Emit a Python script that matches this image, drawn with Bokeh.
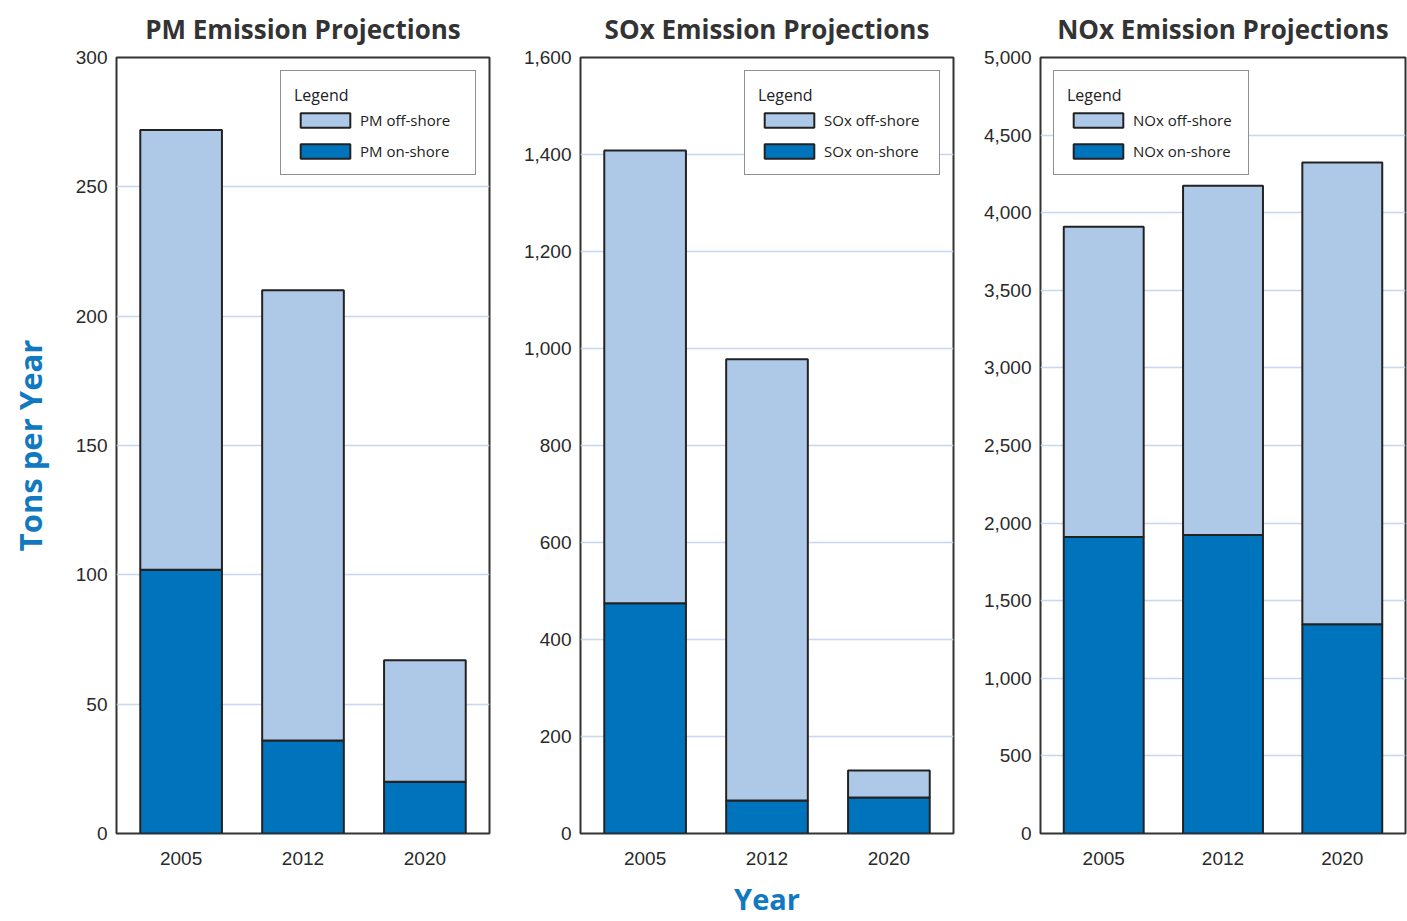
from bokeh.plotting import figure
from bokeh.layouts import row
from bokeh.models import (FactorRange, Range1d, Legend, LegendItem, NumeralTickFormatter,
                          FixedTicker, ColumnDataSource)
from bokeh.embed import file_html
from bokeh.resources import INLINE

years = ["2005", "2012", "2020"]

pm_onshore = [102, 36, 20]
pm_offshore = [170, 174, 47]

sox_onshore = [475, 68, 74]
sox_offshore = [933, 910, 56]

nox_onshore = [1910, 1923, 1348]
nox_offshore = [2000, 2251, 2975]

pm_ticks = [0, 50, 100, 150, 200, 250, 300]
sox_ticks = [0, 200, 400, 600, 800, 1000, 1200, 1400, 1600]
nox_ticks = [0, 500, 1000, 1500, 2000, 2500, 3000, 3500, 4000, 4500, 5000]

DARK = "#0073BD"
LIGHT = "#AEC8E8"
EDGE = "#222222"
TXT = "#2a2a2a"
BLUE_LBL = "#1279C1"
GRID = "#C7D7F0"


def panel(title, onshore, offshore, ticks, name, legend_loc, bl, br, fw,
          ylabel=None, xlabel=None):
    src = ColumnDataSource(dict(year=years, on=onshore, off=offshore))
    p = figure(x_range=FactorRange(factors=years, range_padding=0.02),
               y_range=Range1d(0, ticks[-1]),
               frame_width=fw, frame_height=776, output_backend="svg",
               toolbar_location=None, min_border_left=bl, min_border_right=br,
               min_border_top=57, min_border_bottom=88,
               background_fill_color="white", border_fill_color="white")
    rs = p.vbar_stack(["on", "off"], x="year", source=src, width=0.67,
                      color=[DARK, LIGHT], line_color=EDGE, line_width=2)
    p.title.text = title
    p.title.align = "center"
    p.title.vertical_align = "top"
    p.title.text_font = "Open Sans"
    p.title.text_font_size = "26px"
    p.title.text_font_style = "bold"
    p.title.text_color = "#333333"
    p.title.standoff = 18

    p.outline_line_color = "#333333"
    p.outline_line_width = 2
    p.xgrid.grid_line_color = None
    p.ygrid.grid_line_color = GRID
    p.ygrid.grid_line_width = 1.5

    for ax in (p.xaxis[0], p.yaxis[0]):
        ax.axis_line_color = None
        ax.major_tick_line_color = None
        ax.minor_tick_line_color = None
        ax.major_tick_out = 0
        ax.major_tick_in = 0
        ax.major_label_text_font = "Liberation Sans"
        ax.major_label_text_font_size = "19px"
        ax.major_label_text_color = TXT
    p.xaxis.major_label_standoff = 18
    p.yaxis.major_label_standoff = 9
    p.yaxis.ticker = FixedTicker(ticks=ticks)
    p.yaxis.formatter = NumeralTickFormatter(format="0,0")

    if ylabel:
        p.yaxis.axis_label = ylabel
        p.yaxis.axis_label_text_font = "Open Sans"
        p.yaxis.axis_label_text_font_size = "31px"
        p.yaxis.axis_label_text_font_style = "bold"
        p.yaxis.axis_label_text_color = BLUE_LBL
        p.yaxis.axis_label_standoff = 22
    if xlabel:
        p.xaxis.axis_label = xlabel
        p.xaxis.axis_label_text_font = "Open Sans"
        p.xaxis.axis_label_text_font_size = "29px"
        p.xaxis.axis_label_text_font_style = "bold"
        p.xaxis.axis_label_text_color = BLUE_LBL
        p.xaxis.axis_label_standoff = 11

    legend = Legend(items=[LegendItem(label=name + " off-shore", renderers=[rs[1]]),
                           LegendItem(label=name + " on-shore", renderers=[rs[0]])],
                    title="Legend", location=legend_loc)
    legend.title_text_font = "Open Sans"
    legend.title_text_font_size = "16px"
    legend.title_text_font_style = "normal"
    legend.title_text_color = "#222222"
    legend.title_standoff = 4
    legend.label_text_font = "Open Sans"
    legend.label_text_font_size = "15px"
    legend.label_text_color = "#222222"
    legend.glyph_width = 62
    legend.glyph_height = 18
    legend.label_standoff = 4
    legend.label_height = 18
    legend.label_width = 102
    legend.spacing = 11
    legend.padding = 13
    legend.margin = 13
    legend.border_line_color = "#222222"
    legend.border_line_width = 1.5
    legend.background_fill_alpha = 1
    p.add_layout(legend)
    return p


p1 = panel("PM Emission Projections", pm_onshore, pm_offshore, pm_ticks, "PM",
           "top_right", 116, 10, 373, ylabel="Tons per Year")
p2 = panel("SOx Emission Projections", sox_onshore, sox_offshore, sox_ticks, "SOx",
           "top_right", 81, 10, 373, xlabel="Year")
p3 = panel("NOx Emission Projections", nox_onshore, nox_offshore, nox_ticks, "NOx",
           "top_left", 77, 2, 365)

layout = row(p1, p2, p3)
open("out.html", "w").write(file_html(layout, INLINE))
